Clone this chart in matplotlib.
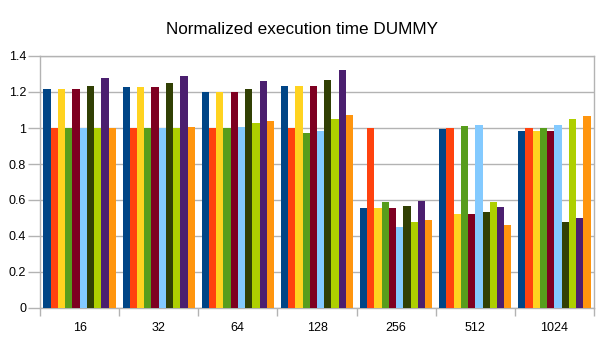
import matplotlib
matplotlib.use("Agg")
import matplotlib.pyplot as plt
import numpy as np

plt.rcParams['font.family'] = ['Liberation Sans', 'DejaVu Sans']

categories = ["16", "32", "64", "128", "256", "512", "1024"]
series_colors = ["#004586", "#ff420e", "#ffd320", "#579d1c", "#7e0021",
                 "#83caff", "#314004", "#aecf00", "#4b1f6f", "#ff950e"]

s1 = [1.215, 1.226, 1.198, 1.235, 0.554, 0.993, 0.983]
s2 = [1.0, 1.0, 1.0, 1.0, 1.0, 1.0, 1.0]
s3 = [1.215, 1.226, 1.198, 1.235, 0.554, 0.522, 0.983]
s4 = [1.0, 1.0, 1.0, 0.974, 0.589, 1.009, 1.0]
s5 = [1.215, 1.226, 1.198, 1.235, 0.554, 0.522, 0.983]
s6 = [1.0, 1.0, 1.004, 0.983, 0.452, 1.017, 1.017]
s7 = [1.235, 1.248, 1.218, 1.265, 0.567, 0.535, 0.476]
s8 = [1.0, 1.0, 1.028, 1.048, 0.478, 0.589, 1.05]
s9 = [1.28, 1.29, 1.261, 1.322, 0.594, 0.561, 0.498]
s10 = [1.0, 1.004, 1.037, 1.07, 0.489, 0.461, 1.067]
series = [s1, s2, s3, s4, s5, s6, s7, s8, s9, s10]

fig = plt.figure(figsize=(6.05, 3.4), dpi=100)
ax = fig.add_axes([40/605, 32/340, 554/605, 252/340])

n = len(series)
group_fill = 0.914
bw = group_fill / n
x = np.arange(len(categories))
for i, (vals, col) in enumerate(zip(series, series_colors)):
    ax.bar(x - group_fill/2 + bw*(i+0.5), vals, width=bw, color=col, linewidth=0, zorder=3)

grid_col = "#b3b3b3"
ax.set_xlim(-0.5, len(categories) - 0.5)
ax.set_ylim(0, 1.4)
yt = np.arange(0, 1.41, 0.2)
ax.set_yticks(yt)
ax.set_yticklabels(["0", "0.2", "0.4", "0.6", "0.8", "1", "1.2", "1.4"])
ax.yaxis.grid(True, color=grid_col, linewidth=1, zorder=0)
ax.set_axisbelow(True)

ax.set_xticks(x)
ax.set_xticklabels(categories)
ax.set_xticks(np.arange(-0.5, len(categories), 1), minor=True)
ax.tick_params(axis='x', which='major', length=0, pad=10, labelsize=9)
ax.tick_params(axis='x', which='minor', length=6, color=grid_col, width=1)
ax.tick_params(axis='y', length=9, color=grid_col, width=1, pad=1, labelsize=9)

for side in ['left', 'right', 'top', 'bottom']:
    ax.spines[side].set_color(grid_col)
    ax.spines[side].set_linewidth(1)

fig.text(0.5, 1 - 29/340, "Normalized execution time DUMMY", ha='center', va='center', fontsize=12.3)

fig.savefig("out.png", dpi=100)
